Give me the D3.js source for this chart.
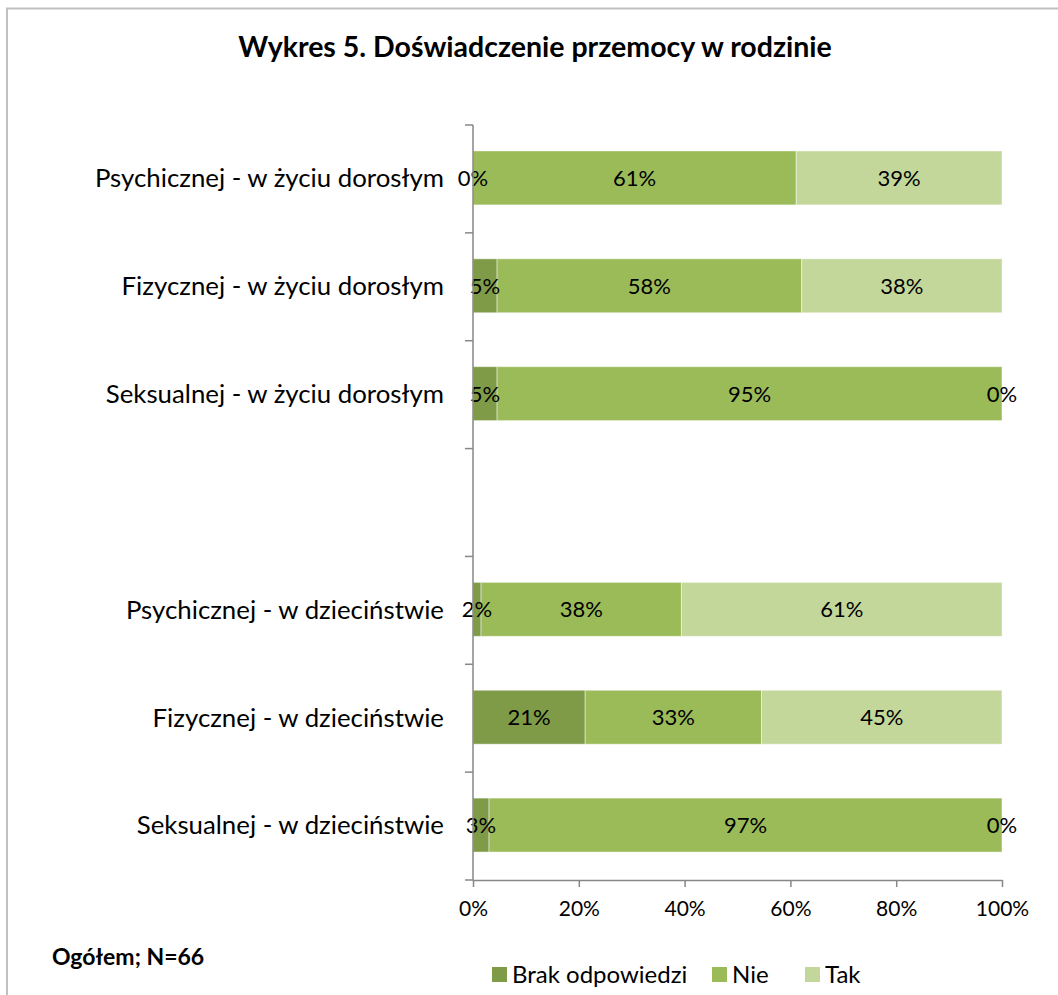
<!DOCTYPE html>
<html><head><meta charset="utf-8">
<script src="https://cdn.jsdelivr.net/npm/d3@7"></script>
<style>
html,body{margin:0;padding:0;background:#fff;}
text{font-family:Lato,"Noto Sans",sans-serif;fill:#000;}
</style></head>
<body>
<script>
const title = "Wykres 5. Doświadczenie przemocy w rodzinie";
const note = "Ogółem; N=66";
const categories = [
  "Psychicznej - w życiu dorosłym",
  "Fizycznej - w życiu dorosłym",
  "Seksualnej - w życiu dorosłym",
  "",
  "Psychicznej - w dzieciństwie",
  "Fizycznej - w dzieciństwie",
  "Seksualnej - w dzieciństwie"
];
const seriesNames = ["Brak odpowiedzi", "Nie", "Tak"];
const brak = [0, 4.55, 4.55, null, 1.52, 21.21, 3.03];
const nie  = [61.1, 57.58, 95.45, null, 37.88, 33.33, 96.97];
const tak  = [38.9, 37.88, 0, null, 60.61, 45.45, 0];
const colors = ["#7f9b48", "#9bbb59", "#c4d79b"];
const xTicks = [0, 20, 40, 60, 80, 100];

const W = 1058, H = 995;
const svg = d3.select("body").append("svg").attr("width", W).attr("height", H);

// outer frame
svg.append("rect").attr("x", 7).attr("y", 8.5).attr("width", W + 20).attr("height", H + 20)
  .attr("fill", "none").attr("stroke", "#c0c0c0").attr("stroke-width", 2);

svg.append("text").attr("x", 535).attr("y", 57).attr("text-anchor", "middle")
  .style("font-weight", "bold").style("font-size", "28.5px").text(title);

const x = d3.scaleLinear().domain([0, 100]).range([473, 1002]);
const keys = categories.map((c, i) => "k" + i);
const y = d3.scaleBand().domain(keys).range([125, 880]).paddingInner(0.5).paddingOuter(0.25);

const rows = categories.map((c, i) => ({key: keys[i], label: c, vals: [brak[i], nie[i], tak[i]]}));

// bars
rows.forEach(r => {
  if (r.vals[0] === null) return;
  let cum = 0;
  r.vals.forEach((v, j) => {
    const x0 = x(cum), x1 = x(cum + v);
    svg.append("rect").attr("x", x0).attr("y", y(r.key) - 1).attr("width", Math.max(0, x1 - x0))
      .attr("height", y.bandwidth()).attr("fill", colors[j])
      .attr("stroke", v > 0 ? "rgba(255,255,255,0.45)" : "none").attr("stroke-width", 1);
    cum += v;
  });
});
// data labels
rows.forEach(r => {
  if (r.vals[0] === null) return;
  let cum = 0;
  r.vals.forEach((v, j) => {
    const cx = x(cum + v / 2);
    svg.append("text").attr("x", cx).attr("y", y(r.key) - 1 + y.bandwidth() / 2)
      .attr("dy", "0.36em").attr("text-anchor", "middle").style("font-size", "22px")
      .text(Math.round(v) + "%");
    cum += v;
  });
});

// y axis
const axisColor = "#878787";
const step = y.step();
const bounds = keys.map(k => y(k) - step * 0.25).concat([y(keys[keys.length - 1]) + y.bandwidth() + step * 0.25]);
svg.append("line").attr("x1", x(0)).attr("x2", x(0)).attr("y1", bounds[0]).attr("y2", bounds[bounds.length - 1])
  .attr("stroke", axisColor).attr("stroke-width", 1.5);
bounds.forEach(b => {
  svg.append("line").attr("x1", x(0) - 8).attr("x2", x(0)).attr("y1", b).attr("y2", b)
    .attr("stroke", axisColor).attr("stroke-width", 1.5);
});
rows.forEach(r => {
  if (!r.label) return;
  svg.append("text").attr("x", 444).attr("y", y(r.key) - 1 + y.bandwidth() / 2).attr("dy", "0.36em")
    .attr("text-anchor", "end").style("font-size", "25.8px").text(r.label);
});

// x axis
const xAxis = svg.append("g").attr("transform", `translate(0,${bounds[bounds.length - 1]})`)
  .call(d3.axisBottom(x).tickValues(xTicks).tickSize(7).tickSizeOuter(0).tickPadding(14).tickFormat(d => d + "%"));
xAxis.select(".domain").attr("stroke", axisColor).attr("stroke-width", 1.5);
xAxis.selectAll(".tick line").attr("stroke", axisColor).attr("stroke-width", 1.5);
xAxis.selectAll(".tick text").style("font-size", "21px").style("font-family", "Lato,sans-serif").attr("fill", "#000");

// note
svg.append("text").attr("x", 52).attr("y", 965).style("font-weight", "bold").style("font-size", "23px").text(note);

// legend
const legendX = [492, 712, 805];
seriesNames.forEach((s, j) => {
  const g = svg.append("g").attr("transform", `translate(${legendX[j]},967)`);
  g.append("rect").attr("x", 0).attr("y", 0).attr("width", 15).attr("height", 15).attr("fill", colors[j]);
  g.append("text").attr("x", 20).attr("y", 7).attr("dy", "0.36em").style("font-size", "24px").text(s);
});
</script>
</body></html>
